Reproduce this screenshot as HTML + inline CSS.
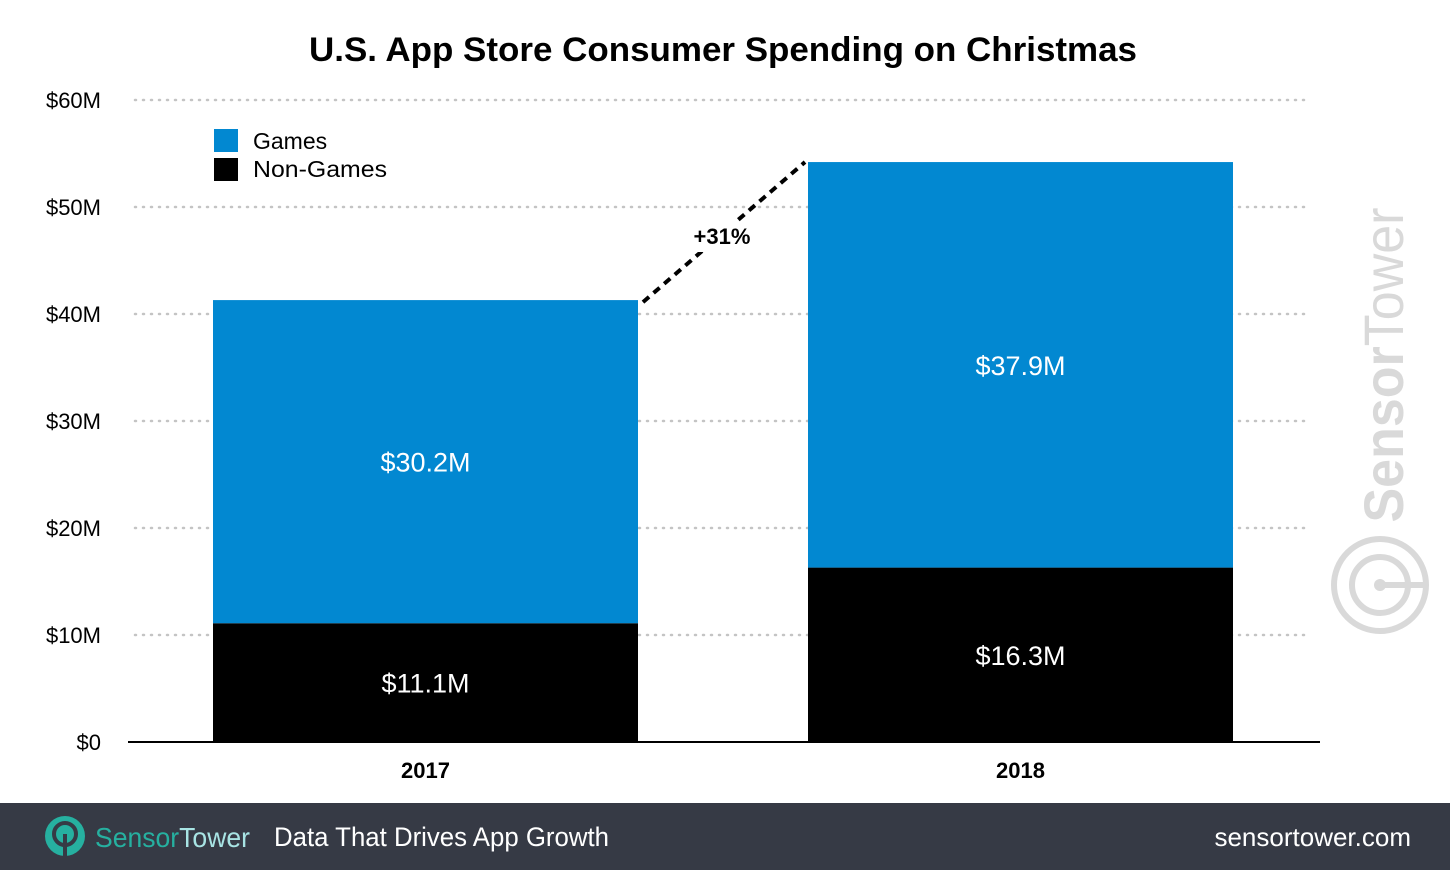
<!DOCTYPE html>
<html><head><meta charset="utf-8"><style>
body{margin:0;background:#fff;font-family:"Liberation Sans",sans-serif;}
svg text{font-family:"Liberation Sans",sans-serif;}
</style></head><body>
<svg id="chart" width="1450" height="870" xmlns="http://www.w3.org/2000/svg">
<text x="723" y="61" text-anchor="middle" font-size="34" font-weight="bold" fill="#000" textLength="828" lengthAdjust="spacingAndGlyphs">U.S. App Store Consumer Spending on Christmas</text>
<g id="grid"></g>
<g id="yticks"></g>
<g>
<text transform="translate(1403,365) rotate(-90)" text-anchor="middle" font-size="56" fill="#d9d9d9" textLength="315" lengthAdjust="spacingAndGlyphs"><tspan font-weight="bold">Sensor</tspan>Tower</text>
<circle cx="1380" cy="585" r="46" fill="none" stroke="#d9d9d9" stroke-width="6"/>
<circle cx="1380" cy="585" r="28" fill="none" stroke="#d9d9d9" stroke-width="6"/>
<line x1="1380" y1="585" x2="1428" y2="585" stroke="#d9d9d9" stroke-width="6"/>
<circle cx="1380" cy="585" r="6" fill="#d9d9d9"/>
</g>
<g id="bars"></g>
<line x1="128" y1="742" x2="1320" y2="742" stroke="#000" stroke-width="2"/>
<g id="xticks"></g>
<g id="growth"></g>
<g>
<rect x="214" y="129" width="24" height="23" fill="#0288d1"/>
<text x="253" y="149" font-size="23" fill="#000">Games</text>
<rect x="214" y="158" width="24" height="23" fill="#000"/>
<text x="253" y="177" font-size="23" fill="#000" textLength="134" lengthAdjust="spacingAndGlyphs">Non-Games</text>
</g>
<g>
<rect x="0" y="803" width="1450" height="67" fill="#363a45"/>
<circle cx="65" cy="836" r="20" fill="#26b0a0"/>
<circle cx="65" cy="834" r="11" fill="none" stroke="#363a45" stroke-width="4"/>
<line x1="65" y1="834" x2="65" y2="856" stroke="#363a45" stroke-width="4"/>
<text x="95" y="847" font-size="28" fill="#26b0a0" textLength="155" lengthAdjust="spacingAndGlyphs">Sensor<tspan fill="#a8e4e4">Tower</tspan></text>
<text x="274" y="846" font-size="27" fill="#fff" textLength="335" lengthAdjust="spacingAndGlyphs">Data That Drives App Growth</text>
<text x="1411" y="846" font-size="26" fill="#fff" text-anchor="end">sensortower.com</text>
</g>
</svg>
<script>
const categories = ["2017", "2018"];
const nonGames = [11.1, 16.3];
const games = [30.2, 37.9];
const yTicks = [0, 10, 20, 30, 40, 50, 60];
const growthLabel = "+31%";
const NS = "http://www.w3.org/2000/svg";
const y = v => 742 - v * 10.7;
const barW = 425;
const xc = i => 425.5 + i * 595;
function mk(tag, attrs, parent, text){const e=document.createElementNS(NS,tag);for(const k in attrs)e.setAttribute(k,attrs[k]);if(text!==undefined)e.textContent=text;parent.appendChild(e);return e;}
const grid=document.getElementById('grid'), yt=document.getElementById('yticks');
yTicks.forEach(t=>{
  if(t>0){const l=mk('line',{x1:135,x2:1310,y1:y(t),y2:y(t),stroke:'#c4c4c4','stroke-width':2.5,'stroke-dasharray':'1 7','stroke-linecap':'round'},grid);
  
  }
  const tx=mk('text',{x:101,y:y(t)+8,'text-anchor':'end','font-size':22,fill:'#000'},yt,'$'+t+(t?'M':''));
  
  
});
const bars=document.getElementById('bars'), xt=document.getElementById('xticks');
categories.forEach((c,i)=>{
  const x0=xc(i)-barW/2, ng=nonGames[i], g=games[i];
  const r1=mk('rect',{x:x0,y:y(ng),width:barW,height:y(0)-y(ng),fill:'#000'},bars);
  
  
  const r2=mk('rect',{x:x0,y:y(ng+g),width:barW,height:y(ng)-y(ng+g),fill:'#0288d1'},bars);
  
  
  const t1=mk('text',{x:xc(i),y:(y(0)+y(ng))/2+10,'text-anchor':'middle','font-size':27,fill:'#fff'},bars,'$'+ng.toFixed(1)+'M');
  
  
  const t2=mk('text',{x:xc(i),y:(y(ng)+y(ng+g))/2+10,'text-anchor':'middle','font-size':27,fill:'#fff'},bars,'$'+g.toFixed(1)+'M');
  
  
  const xl=mk('text',{x:xc(i),y:778,'text-anchor':'middle','font-size':22,'font-weight':'bold',fill:'#000'},xt,c);
  
  
});
const gr=document.getElementById('growth');
const t0=nonGames[0]+games[0], t1v=nonGames[1]+games[1];
const dl=mk('line',{x1:xc(0)+barW/2+5,y1:y(t0)+2,x2:xc(1)-barW/2-3,y2:y(t1v),stroke:'#000','stroke-width':4,'stroke-dasharray':'8 6'},gr);


const bg=mk('rect',{x:686,y:222,width:72,height:30,fill:'#fff'},gr);


const gl=mk('text',{x:722,y:244,'text-anchor':'middle','font-size':22,'font-weight':'bold',fill:'#000'},gr,growthLabel);


</script>
</body></html>
